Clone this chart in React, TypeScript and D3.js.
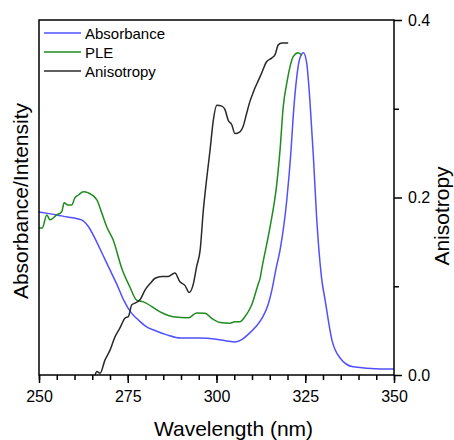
import { useEffect, useRef } from 'react';
import * as d3 from 'd3';

// wavelength (nm), normalized absorbance
const absorbance: [number, number][] = [
  [250, 0.459], [252, 0.456], [255, 0.451], [258, 0.445], [260, 0.442], [262, 0.437],
  [264, 0.417], [266, 0.38], [268, 0.338], [270, 0.296], [272, 0.254], [274, 0.208],
  [276, 0.175], [278, 0.155], [280, 0.138], [283, 0.124], [286, 0.113], [290, 0.104],
  [295, 0.104], [300, 0.101], [303, 0.096], [305, 0.093], [307, 0.099], [309, 0.115],
  [311, 0.135], [313, 0.163], [314.5, 0.197], [315.6, 0.239], [316.8, 0.301], [317.9, 0.352],
  [319.8, 0.493], [321, 0.634], [321.6, 0.727], [322.6, 0.839], [323.5, 0.893], [324.5, 0.908],
  [325.4, 0.879], [326.3, 0.775], [327.3, 0.614], [328.2, 0.445], [329.6, 0.273], [330.6, 0.211],
  [332.5, 0.099], [334.8, 0.048], [338.5, 0.023], [346, 0.017], [350, 0.017],
];

// wavelength (nm), normalized PLE intensity
const ple: [number, number][] = [
  [250, 0.414], [250.9, 0.414], [252.2, 0.451], [253.1, 0.437], [255, 0.451], [256.4, 0.46],
  [257.1, 0.485], [258.1, 0.479], [259.2, 0.479], [260.1, 0.499], [261.1, 0.507], [262.5, 0.516],
  [263.9, 0.513], [266.3, 0.493], [267.7, 0.456], [269.1, 0.417], [270.9, 0.38], [273.3, 0.301],
  [275.6, 0.248], [277.5, 0.211], [279.4, 0.206], [284.1, 0.178], [287.8, 0.164], [292.1, 0.161],
  [294.4, 0.175], [296.8, 0.174], [298.6, 0.16], [301, 0.148], [303.8, 0.146], [305.2, 0.15],
  [306.6, 0.15], [308, 0.164], [309.9, 0.197], [311.8, 0.258], [312.3, 0.273], [312.7, 0.296],
  [315.1, 0.418], [317, 0.54], [317.9, 0.634], [318.8, 0.756], [319.8, 0.822], [320.7, 0.868],
  [321.6, 0.897], [323, 0.908], [324, 0.901],
];

// wavelength (nm), anisotropy
const anisotropy: [number, number][] = [
  [265.8, 0.0], [266.3, 0.004], [267.2, 0.002], [268.6, 0.017], [270, 0.028], [271.4, 0.043],
  [272.8, 0.053], [274.2, 0.064], [275.2, 0.066], [276.1, 0.079], [277, 0.081], [278.5, 0.085],
  [279.9, 0.096], [281.3, 0.103], [282.7, 0.109], [284.6, 0.111], [286.4, 0.111], [288.3, 0.115],
  [289.7, 0.105], [291.1, 0.101], [292.3, 0.093], [293.5, 0.103], [294.4, 0.122], [295.4, 0.141],
  [296.3, 0.186], [297.2, 0.22], [298.2, 0.254], [299.1, 0.287], [300.1, 0.304], [301.5, 0.303],
  [302.4, 0.299], [303.3, 0.287], [304.3, 0.282], [305.2, 0.272], [306.6, 0.274], [307.5, 0.28],
  [308.5, 0.295], [309.4, 0.308], [310.4, 0.319], [310.8, 0.323], [311.8, 0.332], [312.7, 0.34],
  [314.1, 0.353], [315.5, 0.357], [316.5, 0.361], [317.4, 0.372], [318.4, 0.374], [320.2, 0.374],
];

const xTicks = [250, 275, 300, 325, 350];
const rightTicks = [0, 0.2, 0.4];

const series = [
  { name: 'Absorbance', data: absorbance, color: '#5050ff', axis: 'left' },
  { name: 'PLE', data: ple, color: '#1e8c1e', axis: 'left' },
  { name: 'Anisotropy', data: anisotropy, color: '#2a2a2a', axis: 'right' },
];

export default function App() {
  const svgRef = useRef<SVGSVGElement>(null);

  useEffect(() => {
    const left = 39, right = 394, top = 20, bottom = 375;
    const font = '"Liberation Sans", Arial, sans-serif';

    d3.select(svgRef.current).selectAll('*').remove();
    const svg = d3.select(svgRef.current)
      .attr('width', 454)
      .attr('height', 440)
      .style('font-family', font);

    const x = d3.scaleLinear().domain([250, 350]).range([left, right]);
    const yL = d3.scaleLinear().domain([0, 1]).range([bottom, top]);
    const yR = d3.scaleLinear().domain([0, 0.4]).range([bottom, top]);

    // Curves
    series.forEach(s => {
      const y = s.axis === 'left' ? yL : yR;
      const line = d3.line<[number, number]>()
        .x(d => x(d[0]))
        .y(d => y(d[1]))
        .curve(d3.curveMonotoneX);
      svg.append('path')
        .datum(s.data)
        .attr('d', line)
        .attr('fill', 'none')
        .attr('stroke', s.color)
        .attr('stroke-width', 1.5);
    });

    // Frame
    svg.append('rect')
      .attr('x', left)
      .attr('y', top)
      .attr('width', right - left)
      .attr('height', bottom - top)
      .attr('fill', 'none')
      .attr('stroke', '#000')
      .attr('stroke-width', 1.5);

    // X axis: minor then major
    svg.append('g')
      .attr('transform', `translate(0,${bottom})`)
      .call(d3.axisBottom(x).tickValues(d3.range(250, 351, 5)).tickSize(5).tickFormat(() => ''))
      .call(g => g.select('.domain').remove())
      .selectAll('line').attr('stroke-width', 1.5);

    const gx = svg.append('g')
      .attr('transform', `translate(0,${bottom})`)
      .call(d3.axisBottom(x).tickValues(xTicks).tickSize(8).tickPadding(8).tickFormat(d3.format('d')));
    gx.select('.domain').remove();
    gx.selectAll('line').attr('stroke-width', 1.5);
    gx.selectAll('text').style('font-size', '16px').style('font-family', font).attr('fill', '#000');

    // Right axis
    svg.append('g')
      .attr('transform', `translate(${right},0)`)
      .call(d3.axisRight(yR).tickValues([0.1, 0.3]).tickSize(5).tickFormat(() => ''))
      .call(g => g.select('.domain').remove())
      .selectAll('line').attr('stroke-width', 1.5);

    const gy = svg.append('g')
      .attr('transform', `translate(${right},0)`)
      .call(d3.axisRight(yR).tickValues(rightTicks).tickSize(8).tickPadding(6).tickFormat(d3.format('.1f')));
    gy.select('.domain').remove();
    gy.selectAll('line').attr('stroke-width', 1.5);
    gy.selectAll('text').style('font-size', '16px').style('font-family', font).attr('fill', '#000');

    // Axis titles
    svg.append('text')
      .attr('x', (left + right) / 2 + 17)
      .attr('y', 436)
      .attr('text-anchor', 'middle')
      .style('font-size', '21px')
      .text('Wavelength (nm)');

    svg.append('text')
      .attr('transform', `translate(28,201) rotate(-90)`)
      .attr('text-anchor', 'middle')
      .style('font-size', '21px')
      .text('Absorbance/Intensity');

    svg.append('text')
      .attr('transform', `translate(449,216) rotate(-90)`)
      .attr('text-anchor', 'middle')
      .style('font-size', '21px')
      .text('Anisotropy');

    // Legend
    const legend = svg.append('g').attr('transform', 'translate(44,33)');
    series.forEach((s, i) => {
      const row = legend.append('g').attr('transform', `translate(0,${i * 19})`);
      row.append('line')
        .attr('x1', 0).attr('x2', 37)
        .attr('y1', 0).attr('y2', 0)
        .attr('stroke', s.color)
        .attr('stroke-width', 1.5);
      row.append('text')
        .attr('x', 41)
        .attr('y', 5.5)
        .style('font-size', '15px')
        .text(s.name);
    });
  }, []);

  return (
    <div style={{ position: 'absolute', left: 0, top: 0 }}>
      <svg ref={svgRef}></svg>
    </div>
  );
}
